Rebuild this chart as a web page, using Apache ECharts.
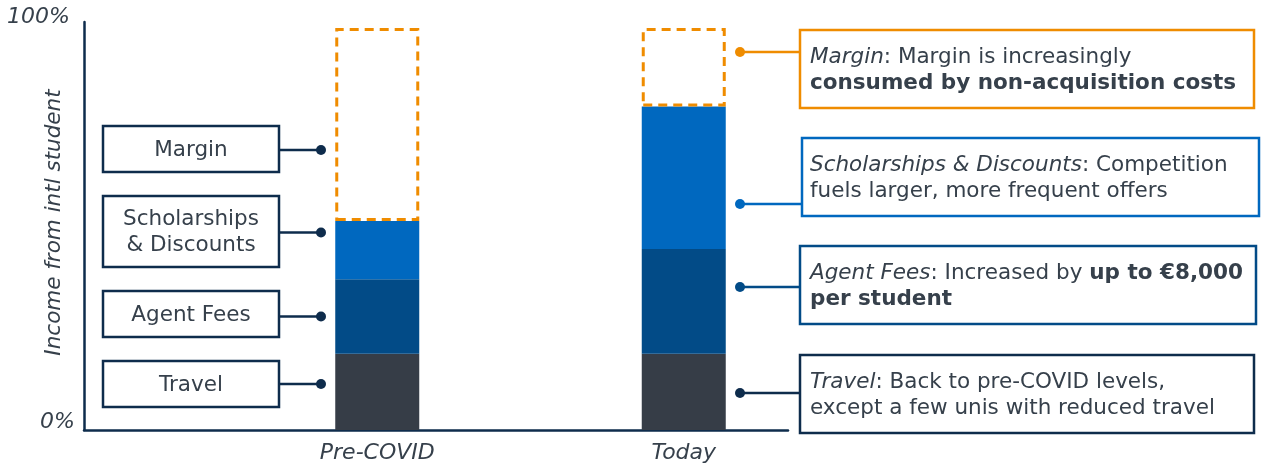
<!DOCTYPE html>
<html><head><meta charset="utf-8">
<script src="https://cdn.jsdelivr.net/npm/echarts@6/dist/echarts.min.js"></script>
<style>html,body{margin:0;padding:0;background:#fff}#c{width:1261px;height:464px}</style>
</head><body><div id="c"></div>
<script>
// ---- data ----
const categories = ['Pre-COVID', 'Today'];
const travel = [19, 19];
const agentFees = [18.5, 26];
const scholarships = [14.5, 35.5];
const margin = [48, 19.5];
const yTickValues = [0, 100];
const yTickLabels = ['0%', '100%'];
const yAxisTitle = 'Income from intl student';
const leftLabels = ['Margin', 'Scholarships\n& Discounts', 'Agent Fees', 'Travel'];
const rightNotes = [
  '{i|Margin}: Margin is increasingly\n{b|consumed by non-acquisition costs}',
  '{i|Scholarships & Discounts}: Competition\nfuels larger, more frequent offers',
  '{i|Agent Fees}: Increased by {b|up to €8,000}\n{b|per student}',
  '{i|Travel}: Back to pre-COVID levels,\nexcept a few unis with reduced travel'
];

// ---- styles ----
const FONT = 'DejaVu Sans, Verdana, sans-serif';
const FS = 21.5;
const TXT = '#36404b';
const NAVY = '#0e2c4c';
const C_TRAVEL = '#363d47', C_AGENT = '#024b87', C_SCHOL = '#0068bf', C_MARGIN = '#ef8c00';

const chart = echarts.init(document.getElementById('c'), null, {renderer: 'canvas'});

const g = [];
// y-axis title
g.push({type: 'text', x: 54, y: 222.5, rotation: Math.PI / 2,
  style: {x: 0, y: 0, text: yAxisTitle, fill: TXT, font: 'italic ' + FS + 'px ' + FONT,
    fontSize: FS, fontFamily: FONT, fontStyle: 'italic',
    align: 'center', verticalAlign: 'middle', textAlign: 'center', textVerticalAlign: 'middle'}});
// left label boxes
const leftBoxes = [[126, 46, 150], [196, 71, 232.5], [291, 46, 316.5], [361, 46, 384]];
leftBoxes.forEach((b, k) => {
  g.push({type: 'line', shape: {x1: 279, y1: b[2], x2: 321, y2: b[2]}, style: {stroke: NAVY, lineWidth: 2.5}});
  g.push({type: 'circle', shape: {cx: 321, cy: b[2], r: 5}, style: {fill: NAVY}});
  g.push({type: 'rect', shape: {x: 103, y: b[0], width: 176, height: b[1]}, style: {fill: '#fff', stroke: NAVY, lineWidth: 2.5}});
  g.push({type: 'text', style: {x: 191, y: b[0] + b[1] / 2 + 1, text: leftLabels[k], fill: TXT,
    font: FS + 'px ' + FONT, fontSize: FS, fontFamily: FONT, lineHeight: 26,
    align: 'center', verticalAlign: 'middle', textAlign: 'center', textVerticalAlign: 'middle'}});
});
// right note boxes
const rightBoxes = [
  [800, 30, 454, 78, 52, C_MARGIN],
  [802, 138, 457, 78, 204, C_SCHOL],
  [800, 246, 456, 78, 287, C_AGENT],
  [800, 355, 454, 78, 393, NAVY]
];
rightBoxes.forEach((b, k) => {
  g.push({type: 'line', shape: {x1: 740, y1: b[4], x2: b[0], y2: b[4]}, style: {stroke: b[5], lineWidth: 2.5}});
  g.push({type: 'circle', shape: {cx: 740, cy: b[4], r: 5}, style: {fill: b[5]}});
  g.push({type: 'rect', shape: {x: b[0], y: b[1], width: b[2], height: b[3]}, style: {fill: '#fff', stroke: b[5], lineWidth: 2.5}});
  const base = {fontSize: FS, fontFamily: FONT, fill: TXT, lineHeight: 26};
  g.push({type: 'text', style: {x: 810, y: b[1] + b[3] / 2 + 1.5, text: rightNotes[k], fill: TXT,
    font: FS + 'px ' + FONT, fontSize: FS, fontFamily: FONT, lineHeight: 26,
    align: 'left', verticalAlign: 'middle', textAlign: 'left', textVerticalAlign: 'middle',
    rich: {
      i: Object.assign({fontStyle: 'italic'}, base),
      b: Object.assign({fontWeight: 'bold'}, base)
    }}});
});

function yLabel(v) {
  const k = yTickValues.indexOf(v);
  if (k < 0) return '';
  return v === 100 ? '{t|' + yTickLabels[k] + '}' : '{z|' + yTickLabels[k] + '}';
}

const seriesDefs = [
  ['Travel', travel, {color: C_TRAVEL}],
  ['Agent Fees', agentFees, {color: C_AGENT}],
  ['Scholarships & Discounts', scholarships, {color: C_SCHOL}],
  ['Margin', margin, {color: 'rgba(0,0,0,0)', borderColor: C_MARGIN, borderWidth: 3, borderType: [9, 6]}]
];

chart.setOption({
  animation: false,
  backgroundColor: '#fff',
  grid: [
    {left: 84, right: 473, top: 22, bottom: 34, outerBoundsMode: 'none', containLabel: false},
    {left: 224, right: 424, top: 22, bottom: 34, outerBoundsMode: 'none', containLabel: false}
  ],
  xAxis: [
    {type: 'value', gridIndex: 0, min: 0, max: 1, axisLine: {show: true, onZero: false, lineStyle: {color: NAVY, width: 2.5}},
      axisTick: {show: false}, axisLabel: {show: false}, splitLine: {show: false}},
    {type: 'category', gridIndex: 1, data: categories, axisLine: {show: false}, axisTick: {show: false},
      axisLabel: {margin: 12, color: TXT, fontSize: 22, fontFamily: FONT, fontStyle: 'italic'}, splitLine: {show: false}}
  ],
  yAxis: [
    {type: 'value', gridIndex: 0, min: 0, max: 101.5, interval: 100,
      axisLine: {show: true, onZero: false, lineStyle: {color: NAVY, width: 2.5}}, axisTick: {show: false}, splitLine: {show: false},
      axisLabel: {margin: 9, formatter: yLabel, verticalAlign: 'bottom',
        rich: {t: {color: TXT, fontSize: 22, fontFamily: FONT, fontStyle: 'italic', lineHeight: 16, padding: [0, 5, 5, 0]},
               z: {color: TXT, fontSize: 22, fontFamily: FONT, fontStyle: 'italic', lineHeight: 16}}}},
    {type: 'value', gridIndex: 1, min: 0, max: 101.5, show: false}
  ],
  series: seriesDefs.map(d => ({
    type: 'bar', name: d[0], data: d[1], stack: 'total', xAxisIndex: 1, yAxisIndex: 1,
    barWidth: 84, itemStyle: d[2], emphasis: {disabled: true}, silent: true
  })),
  graphic: g
});
</script>
</body></html>
